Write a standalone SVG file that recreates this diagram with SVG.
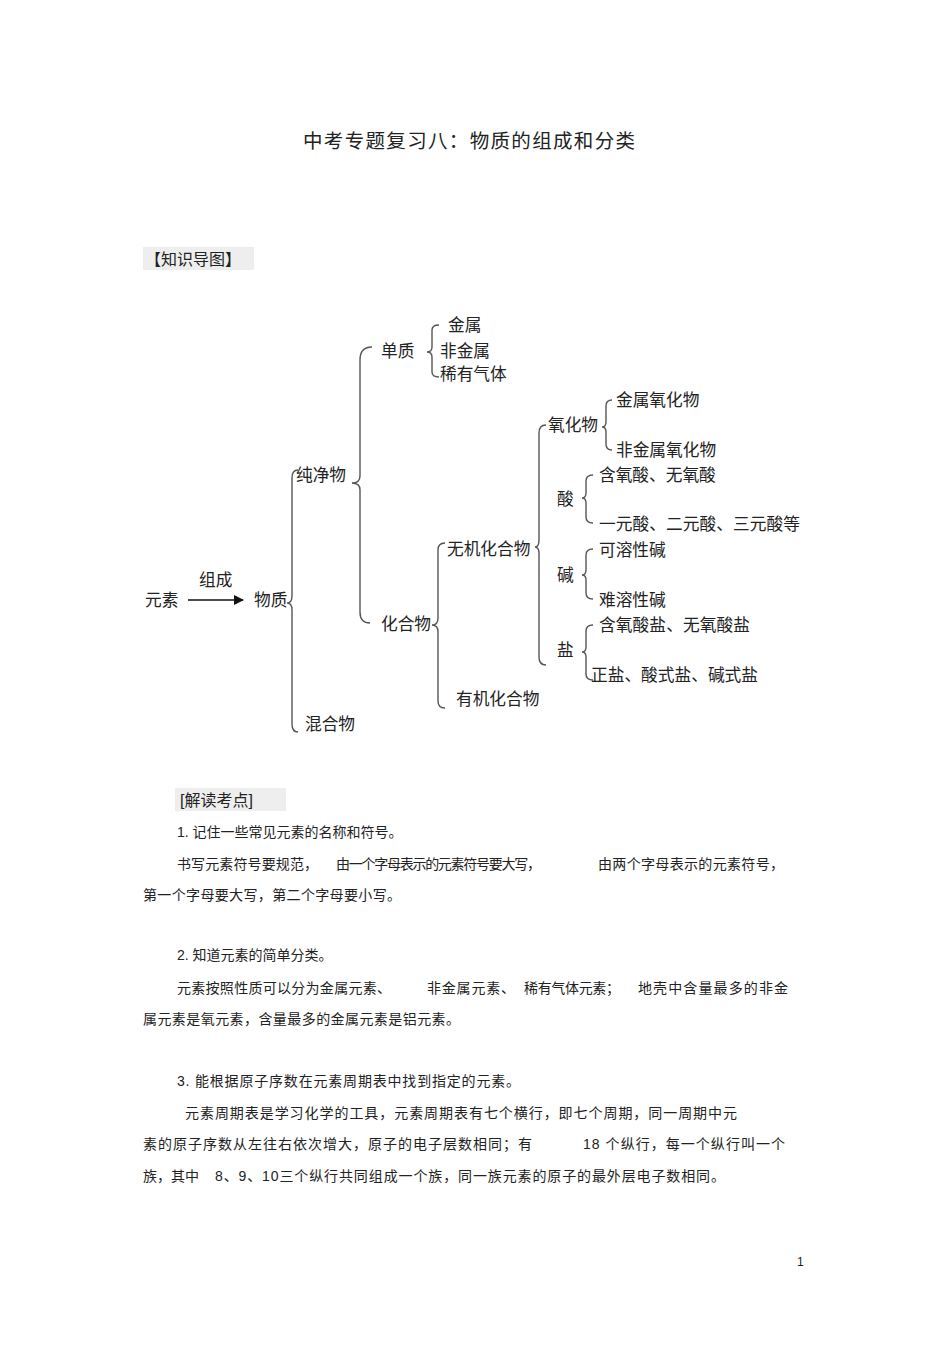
<svg xmlns="http://www.w3.org/2000/svg" width="950" height="1345" viewBox="0 0 950 1345">
<style>
text{font-family:"Liberation Sans","Noto Sans CJK SC",sans-serif;fill:#222}
.n{font-size:16.7px}
.b{font-size:14px}
.br{fill:none;stroke:#555;stroke-width:1.4}
</style>
<defs><marker id="ah" markerWidth="10" markerHeight="10" refX="9" refY="5" orient="auto" markerUnits="userSpaceOnUse"><path d="M0,0 L10,5 L0,10 z" fill="#111"/></marker></defs>
<rect width="950" height="1345" fill="#fff"/>
<text x="303" y="148" font-size="19.5" textLength="332">中考专题复习八：物质的组成和分类</text>
<rect x="143" y="247" width="111" height="23" fill="#eee"/>
<text x="145" y="265" font-size="16">【知识导图】</text>
<g id="connectors">
<line x1="188" y1="600" x2="243" y2="600" stroke="#111" stroke-width="1.4" marker-end="url(#ah)"/>
<path class="br" d="M298,470 Q292,470 292,478 L292,596 Q292,603 287,603 Q292,603 292,610 L292,724 Q292,732 298,732"/>
<path class="br" d="M372,347 Q360,347 360,360 L360,476 Q360,483 352,483 Q360,483 360,490 L360,612 Q360,623 370,623"/>
<path class="br" d="M439,325 Q432,325 432,330 L432,347 Q432,352 427,352 Q432,352 432,357 L432,372 Q432,377 439,377"/>
<path class="br" d="M445,543 Q438,543 438,550 L438,618 Q438,625 432,625 Q438,625 438,632 L438,701 Q438,708 445,708"/>
<path class="br" d="M546,425 Q539,425 539,433 L539,540 Q539,547 535,547 Q539,547 539,554 L539,657 Q539,665 546,665"/>
<path class="br" d="M612,400 Q606,400 606,406 L606,422 Q606,427 602,427 Q606,427 606,432 L606,444 Q606,450 612,450"/>
<path class="br" d="M593,475 Q586,475 586,481 L586,493 Q586,498 582,498 Q586,498 586,503 L586,517 Q586,523 593,523"/>
<path class="br" d="M593,549 Q586,549 586,555 L586,570 Q586,575 582,575 Q586,575 586,580 L586,593 Q586,599 593,599"/>
<path class="br" d="M593,625 Q586,625 586,631 L586,647 Q586,652 582,652 Q586,652 586,657 L586,674 Q586,680 593,680"/>
</g>
<g id="n-yuansu"><text class="n" x="145" y="606">元素</text></g>
<g id="n-zucheng"><text class="n" x="199" y="586">组成</text></g>
<g id="n-wuzhi"><text class="n" x="254" y="606">物质</text></g>
<g id="n-chunjingwu"><text class="n" x="296" y="481">纯净物</text></g>
<g id="n-hunhewu"><text class="n" x="305" y="730">混合物</text></g>
<g id="n-danzhi"><text class="n" x="381" y="357">单质</text></g>
<g id="n-jinshu"><text class="n" x="448" y="331">金属</text></g>
<g id="n-feijinshu"><text class="n" x="440" y="357">非金属</text></g>
<g id="n-xiyou"><text class="n" x="440" y="380">稀有气体</text></g>
<g id="n-huahewu"><text class="n" x="381" y="630">化合物</text></g>
<g id="n-wuji"><text class="n" x="447" y="555">无机化合物</text></g>
<g id="n-youji"><text class="n" x="456" y="705">有机化合物</text></g>
<g id="n-yanghuawu"><text class="n" x="548" y="431">氧化物</text></g>
<g id="n-jsyhw"><text class="n" x="616" y="406">金属氧化物</text></g>
<g id="n-fjsyhw"><text class="n" x="616" y="456">非金属氧化物</text></g>
<g id="n-suan"><text class="n" x="557" y="505">酸</text></g>
<g id="n-hys"><text class="n" x="599" y="481">含氧酸、无氧酸</text></g>
<g id="n-yys"><text class="n" x="599" y="530" textLength="201">一元酸、二元酸、三元酸等</text></g>
<g id="n-jian"><text class="n" x="557" y="581">碱</text></g>
<g id="n-krx"><text class="n" x="599" y="556">可溶性碱</text></g>
<g id="n-nrx"><text class="n" x="599" y="606">难溶性碱</text></g>
<g id="n-yan"><text class="n" x="557" y="656">盐</text></g>
<g id="n-hysy"><text class="n" x="599" y="631" textLength="151">含氧酸盐、无氧酸盐</text></g>
<g id="n-zy"><text class="n" x="591" y="681" textLength="167">正盐、酸式盐、碱式盐</text></g>
<rect x="175" y="788" width="111" height="23" fill="#eee"/>
<text x="180" y="806" font-size="16">[解读考点]</text>
<text class="b" x="177" y="837">1. 记住一些常见元素的名称和符号。</text>
<text class="b" x="177" y="869" textLength="141">书写元素符号要规范，</text>
<text class="b" x="336" y="869" textLength="205">由一个字母表示的元素符号要大写，</text>
<text class="b" x="598" y="869" textLength="186">由两个字母表示的元素符号，</text>
<text class="b" x="143" y="900" textLength="258">第一个字母要大写，第二个字母要小写。</text>
<text class="b" x="177" y="960">2. 知道元素的简单分类。</text>
<text class="b" x="177" y="993" textLength="214">元素按照性质可以分为金属元素、</text>
<text class="b" x="427" y="993" textLength="88">非金属元素、</text>
<text class="b" x="524" y="993" textLength="96">稀有气体元素；</text>
<text class="b" x="638" y="993" textLength="150">地壳中含量最多的非金</text>
<text class="b" x="143" y="1024" textLength="317">属元素是氧元素，含量最多的金属元素是铝元素。</text>
<text class="b" x="177" y="1086" textLength="343">3. 能根据原子序数在元素周期表中找到指定的元素。</text>
<text class="b" x="185" y="1118" textLength="552">元素周期表是学习化学的工具，元素周期表有七个横行，即七个周期，同一周期中元</text>
<text class="b" x="143" y="1149" textLength="389">素的原子序数从左往右依次增大，原子的电子层数相同；有</text>
<text class="b" x="583" y="1149" textLength="202">18 个纵行，每一个纵行叫一个</text>
<text class="b" x="143" y="1181">族，其中</text>
<text class="b" x="215" y="1181" textLength="510">8、9、10三个纵行共同组成一个族，同一族元素的原子的最外层电子数相同。</text>
<text font-size="12" x="797" y="1266">1</text>
</svg>
